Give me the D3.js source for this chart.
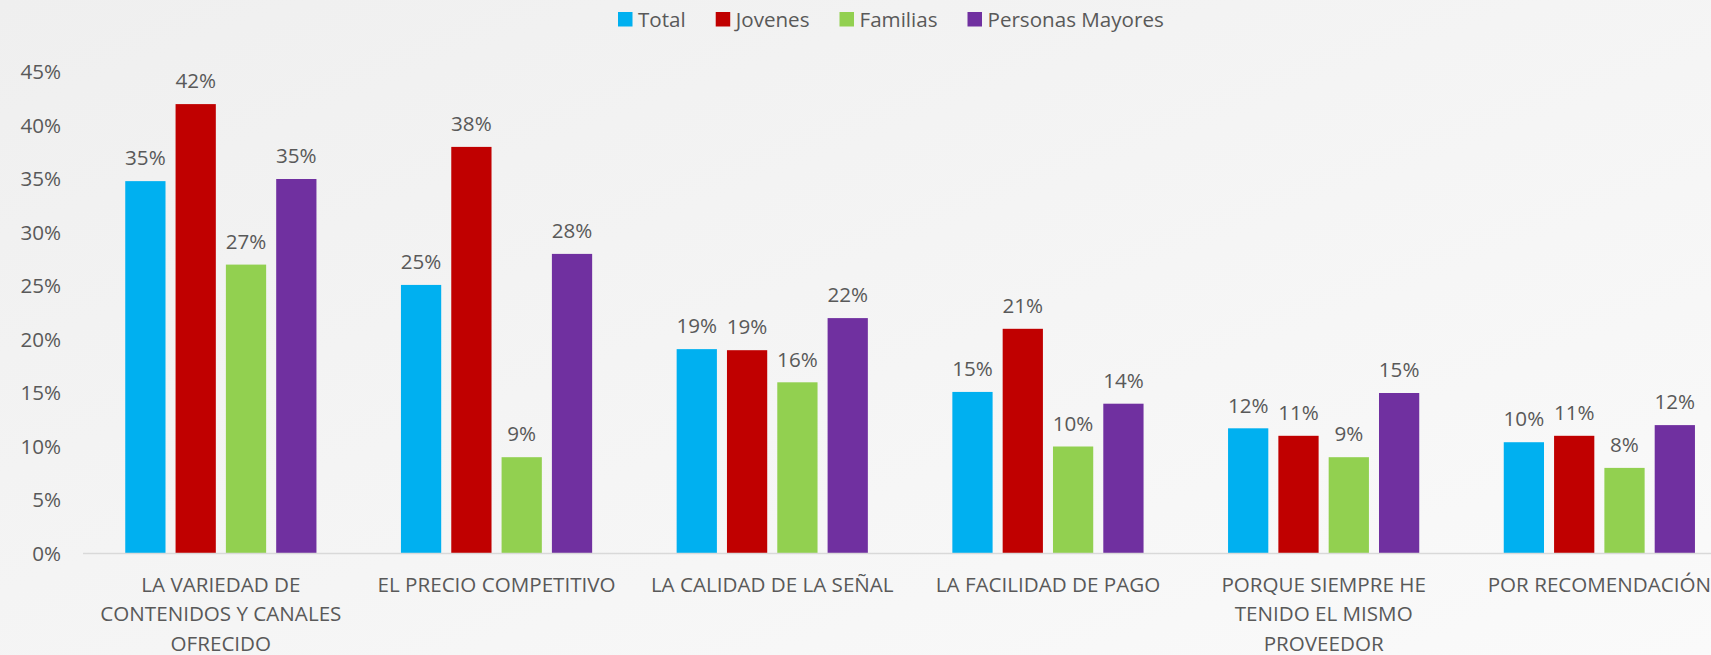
<!DOCTYPE html>
<html>
<head>
<meta charset="utf-8">
<script src="https://cdnjs.cloudflare.com/ajax/libs/d3/7.8.5/d3.min.js"></script>
<style>
  html, body { margin: 0; padding: 0; overflow: hidden; }
  body { width: 1711px; height: 655px; }
  text { font-family: "Open Sans", "Noto Sans", sans-serif; fill: #595959; }
</style>
</head>
<body>
<div id="chart"></div>
<script>
// data
var categories = ["LA VARIEDAD DE CONTENIDOS Y CANALES OFRECIDO", "EL PRECIO COMPETITIVO",
    "LA CALIDAD DE LA SEÑAL", "LA FACILIDAD DE PAGO", "PORQUE SIEMPRE HE TENIDO EL MISMO PROVEEDOR",
    "POR RECOMENDACIÓN"];
var seriesNames = ["Total", "Jovenes", "Familias", "Personas Mayores"];
var total = [34.8, 25.1, 19.1, 15.1, 11.7, 10.4];
var jovenes = [42, 38, 19, 21, 11, 11];
var familias = [27, 9, 16, 10, 9, 8];
var mayores = [35, 28, 22, 14, 15, 12];
var colors = ["#00b0f0", "#c00000", "#92d050", "#7030a0"];
var yTicks = [0, 5, 10, 15, 20, 25, 30, 35, 40, 45];

var width = 1711, height = 655;
var fontSize = "20.6px";
var seriesValues = [total, jovenes, familias, mayores];

var svg = d3.select("#chart")
    .append("svg")
    .attr("width", width)
    .attr("height", height);

// soft grey backdrop
var grad = svg.append("defs").append("linearGradient")
    .attr("id", "bg")
    .attr("x1", "0%").attr("y1", "0%")
    .attr("x2", "100%").attr("y2", "100%");
grad.append("stop").attr("offset", "0%").attr("stop-color", "#efefef");
grad.append("stop").attr("offset", "100%").attr("stop-color", "#fafafa");

svg.append("rect")
    .attr("width", width)
    .attr("height", height)
    .attr("fill", "url(#bg)");

// the plot runs past the right edge, like the original
var left = 83, step = 275.7;
var x0 = d3.scaleBand()
    .domain(categories)
    .range([left, left + step * categories.length])
    .paddingInner(0.27)
    .paddingOuter(0.135);

var x1 = d3.scaleBand()
    .domain(seriesNames)
    .range([0, x0.bandwidth()])
    .paddingInner(0.2)
    .paddingOuter(0.1);

var y = d3.scaleLinear()
    .domain([0, 45])
    .range([553.5, 72]);

// y axis labels only, no line
var yAxis = svg.append("g")
    .attr("transform", "translate(61,0)")
    .call(d3.axisLeft(y).tickValues(yTicks).tickSize(0).tickPadding(0)
        .tickFormat(function (d) { return d + "%"; }));
yAxis.select(".domain").remove();
yAxis.selectAll("text")
    .style("font-size", fontSize)
    .attr("fill", "#595959")
    .style("font-family", "'Open Sans', sans-serif");

// bars
var groups = svg.append("g")
    .selectAll("g")
    .data(categories)
    .join("g")
    .attr("transform", function (d) { return "translate(" + x0(d) + ",0)"; });

groups.selectAll("rect")
    .data(function (d, i) {
        return seriesNames.map(function (s, j) { return {key: s, value: seriesValues[j][i], c: colors[j]}; });
    })
    .join("rect")
    .attr("x", function (d) { return x1(d.key); })
    .attr("y", function (d) { return y(d.value); })
    .attr("width", x1.bandwidth())
    .attr("height", function (d) { return y(0) - y(d.value); })
    .attr("fill", function (d) { return d.c; });

groups.selectAll("text")
    .data(function (d, i) {
        return seriesNames.map(function (s, j) { return {key: s, value: seriesValues[j][i]}; });
    })
    .join("text")
    .attr("x", function (d) { return x1(d.key) + x1.bandwidth() / 2; })
    .attr("y", function (d) { return y(d.value) - 23; })
    .attr("dy", "0.35em")
    .attr("text-anchor", "middle")
    .style("font-size", fontSize)
    .text(function (d) { return Math.round(d.value) + "%"; });

// baseline
svg.append("line")
    .attr("x1", left)
    .attr("x2", width)
    .attr("y1", y(0))
    .attr("y2", y(0))
    .attr("stroke", "#d9d9d9")
    .attr("stroke-width", 1.5);

// category labels, wrapped
var xAxis = svg.append("g")
    .attr("transform", "translate(0," + y(0) + ")")
    .call(d3.axisBottom(x0).tickSize(0).tickPadding(0));
xAxis.select(".domain").remove();
xAxis.selectAll("text")
    .style("font-size", fontSize)
    .attr("fill", "#595959")
    .style("font-family", "'Open Sans', sans-serif")
    .call(wrap, 262);

function wrap(texts, maxW) {
    texts.each(function () {
        var text = d3.select(this),
            words = text.text().split(/\s+/),
            line = [],
            lineNo = 0,
            tspan = text.text(null).append("tspan").attr("x", 0).attr("y", 31).attr("dy", "0.35em");
        words.forEach(function (w) {
            line.push(w);
            tspan.text(line.join(" "));
            if (tspan.node().getComputedTextLength() > maxW && line.length > 1) {
                line.pop();
                tspan.text(line.join(" "));
                line = [w];
                lineNo++;
                tspan = text.append("tspan").attr("x", 0).attr("y", 31 + lineNo * 29.4)
                    .attr("dy", "0.35em").text(w);
            }
        });
    });
}

// legend
var legend = svg.append("g").attr("transform", "translate(618,0)");
var lx = 0;
seriesNames.forEach(function (s, i) {
    legend.append("rect")
        .attr("x", lx)
        .attr("y", 12)
        .attr("width", 14.5)
        .attr("height", 14.5)
        .attr("fill", colors[i]);
    var t = legend.append("text")
        .attr("x", lx + 20)
        .attr("y", 19.5)
        .attr("dy", "0.35em")
        .style("font-size", fontSize)
        .text(s);
    lx += 20 + t.node().getComputedTextLength() + 30;
});
</script>
</body>
</html>
